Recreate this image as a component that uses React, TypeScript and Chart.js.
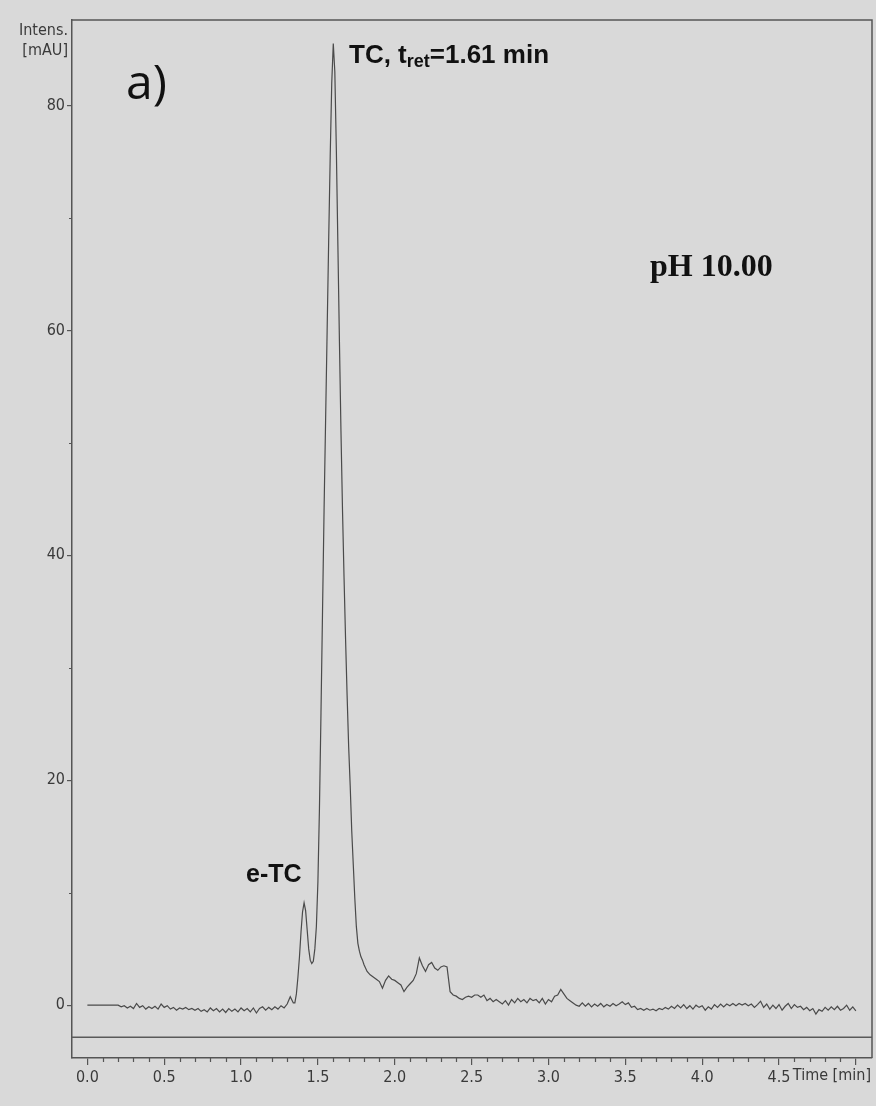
import { useEffect, useRef } from "react";
import { Chart, registerables } from "chart.js";

Chart.register(...registerables);

// Retention time (min)
const times: number[] = [
  0.0, 0.1, 0.2,
  0.22, 0.24, 0.26, 0.28, 0.30, 0.32, 0.34, 0.36, 0.38, 0.40,
  0.42, 0.44, 0.46, 0.48, 0.50, 0.52, 0.54, 0.56, 0.58, 0.60,
  0.62, 0.64, 0.66, 0.68, 0.70, 0.72, 0.74, 0.76, 0.78, 0.80,
  0.82, 0.84, 0.86, 0.88, 0.90, 0.92, 0.94, 0.96, 0.98, 1.00,
  1.02, 1.04, 1.06, 1.08, 1.10, 1.12, 1.14, 1.16, 1.18, 1.20,
  1.22, 1.24, 1.26, 1.28, 1.30, 1.32, 1.34,
  1.35, 1.36, 1.37, 1.38, 1.39, 1.40, 1.41, 1.42, 1.43, 1.44,
  1.45, 1.46, 1.47, 1.48, 1.49, 1.50, 1.51, 1.52, 1.53, 1.54,
  1.55, 1.56, 1.57, 1.58, 1.59, 1.60, 1.61, 1.62, 1.63, 1.64,
  1.65, 1.66, 1.67, 1.68, 1.69, 1.70, 1.71, 1.72, 1.73, 1.74,
  1.75, 1.76, 1.77, 1.78, 1.79, 1.80,
  1.82, 1.84, 1.86, 1.88, 1.90, 1.92, 1.94, 1.96, 1.98, 2.00,
  2.02, 2.04, 2.06, 2.08, 2.10, 2.12, 2.14, 2.16, 2.18, 2.20,
  2.22, 2.24, 2.26, 2.28, 2.30, 2.32, 2.34, 2.36, 2.38, 2.40,
  2.42, 2.44, 2.46, 2.48, 2.50, 2.52, 2.54, 2.56, 2.58, 2.60,
  2.62, 2.64, 2.66, 2.68, 2.70, 2.72, 2.74, 2.76, 2.78, 2.80,
  2.82, 2.84, 2.86, 2.88, 2.90, 2.92, 2.94, 2.96, 2.98, 3.00,
  3.02, 3.04, 3.06, 3.08, 3.10, 3.12, 3.14, 3.16, 3.18, 3.20,
  3.22, 3.24, 3.26, 3.28, 3.30, 3.32, 3.34, 3.36, 3.38, 3.40,
  3.42, 3.44, 3.46, 3.48, 3.50, 3.52, 3.54, 3.56, 3.58, 3.60,
  3.62, 3.64, 3.66, 3.68, 3.70, 3.72, 3.74, 3.76, 3.78, 3.80,
  3.82, 3.84, 3.86, 3.88, 3.90, 3.92, 3.94, 3.96, 3.98, 4.00,
  4.02, 4.04, 4.06, 4.08, 4.10, 4.12, 4.14, 4.16, 4.18, 4.20,
  4.22, 4.24, 4.26, 4.28, 4.30, 4.32, 4.34, 4.36, 4.38, 4.40,
  4.42, 4.44, 4.46, 4.48, 4.50, 4.52, 4.54, 4.56, 4.58, 4.60,
  4.62, 4.64, 4.66, 4.68, 4.70, 4.72, 4.74, 4.76, 4.78, 4.80,
  4.82, 4.84, 4.86, 4.88, 4.90, 4.92, 4.94, 4.96, 4.98, 5.00,
];

// Intensity (mAU)
const intensity: number[] = [
  0, 0, 0,
  -0.15, -0.05, -0.25, -0.1, -0.3, 0.15, -0.2, -0.05, -0.35, -0.15,
  -0.3, -0.1, -0.35, 0.1, -0.2, -0.05, -0.35, -0.2, -0.45, -0.25,
  -0.35, -0.2, -0.4, -0.3, -0.45, -0.3, -0.55, -0.4, -0.6, -0.25,
  -0.5, -0.3, -0.6, -0.35, -0.65, -0.3, -0.55, -0.35, -0.6, -0.25,
  -0.5, -0.3, -0.6, -0.25, -0.7, -0.3, -0.15, -0.45, -0.2, -0.4,
  -0.15, -0.35, -0.05, -0.25, 0.1, 0.75, 0.2,
  0.2, 1.0, 2.5, 4.3, 6.5, 8.3, 9.1, 8.4, 6.7, 5.0,
  4.0, 3.7, 3.9, 5.0, 7.0, 11.0, 17.5, 26, 35, 44,
  52, 60, 68, 75.5, 82, 85.5, 83, 76, 67.5, 59,
  51, 44, 38, 32.5, 27.5, 23, 19.5, 15.5, 12.5, 9.5,
  7.0, 5.5, 4.8, 4.3, 4.0, 3.6,
  3.0, 2.7, 2.5, 2.3, 2.1, 1.5, 2.2, 2.6, 2.3, 2.2,
  2.0, 1.8, 1.2, 1.6, 1.9, 2.2, 2.8, 4.2, 3.5, 3.0,
  3.6, 3.8, 3.3, 3.1, 3.4, 3.5, 3.4, 1.2, 0.9, 0.8,
  0.6, 0.5, 0.7, 0.8, 0.7, 0.9, 0.9, 0.7, 0.9, 0.4,
  0.6, 0.3, 0.5, 0.3, 0.1, 0.4, 0.0, 0.5, 0.2, 0.6,
  0.3, 0.5, 0.2, 0.6, 0.4, 0.5, 0.2, 0.6, 0.1, 0.5,
  0.3, 0.8, 0.9, 1.4, 1.0, 0.6, 0.4, 0.2, 0.0, -0.1,
  0.2, -0.1, 0.15, -0.15, 0.1, -0.1, 0.15, -0.15, 0.05, -0.1,
  0.15, -0.05, 0.1, 0.3, 0.05, 0.2, -0.2, -0.1, -0.4, -0.3,
  -0.45, -0.3, -0.45, -0.35, -0.5, -0.3, -0.4, -0.2, -0.35, -0.1,
  -0.3, 0.0, -0.25, 0.05, -0.3, -0.05, -0.35, 0.0, -0.2, -0.05,
  -0.45, -0.15, -0.35, 0.05, -0.2, 0.1, -0.15, 0.1, -0.05, 0.15,
  -0.05, 0.15, 0.0, 0.15, -0.05, 0.1, -0.2, 0.05, 0.35, -0.2,
  0.1, -0.35, 0.0, -0.3, 0.05, -0.45, -0.1, 0.15, -0.3, 0.05,
  -0.2, -0.1, -0.4, -0.2, -0.5, -0.3, -0.8, -0.4, -0.55, -0.2,
  -0.45, -0.15, -0.4, -0.1, -0.45, -0.3, 0.0, -0.45, -0.15, -0.5,
];

// Second (reference) trace level, mAU
const referenceLevel = -2.85;

const xRange = [-0.1, 5.105];
const yRange = [-4.7, 87.6];
const xMajorTicks = [0, 0.5, 1.0, 1.5, 2.0, 2.5, 3.0, 3.5, 4.0, 4.5, 5.0];
const xTickLabels = ["0.0", "0.5", "1.0", "1.5", "2.0", "2.5", "3.0", "3.5", "4.0", "4.5", ""];
const yMajorTicks = [0, 20, 40, 60, 80];
const yMinorTicks = [10, 30, 50, 70];
const xMinorStep = 0.1;

const NARROW = '"Liberation Sans Narrow", "Arial Narrow", "DejaVu Sans Condensed", "Liberation Sans", sans-serif';
const SANS = '"Liberation Sans", Arial, sans-serif';
const AXIS = "#555555";

const decorations = {
  id: "decorations",
  afterDraw(chart: any) {
    const { ctx, chartArea: a, scales } = chart;
    const x = scales.x;
    const y = scales.y;
    ctx.save();
    // top and right frame
    ctx.strokeStyle = AXIS;
    ctx.lineWidth = 1.5;
    ctx.beginPath();
    ctx.moveTo(a.left, a.top);
    ctx.lineTo(a.right, a.top);
    ctx.lineTo(a.right, a.bottom);
    ctx.stroke();
    // minor ticks
    ctx.lineWidth = 1.2;
    ctx.beginPath();
    for (let v = 0; v <= 5.0001; v += xMinorStep) {
      if (Math.abs(v * 2 - Math.round(v * 2)) < 1e-6) continue;
      const px = Math.round(x.getPixelForValue(v)) + 0.5;
      ctx.moveTo(px, a.bottom);
      ctx.lineTo(px, a.bottom + 4);
    }
    for (const v of yMinorTicks) {
      const py = Math.round(y.getPixelForValue(v)) + 0.5;
      ctx.moveTo(a.left, py);
      ctx.lineTo(a.left - 3, py);
    }
    ctx.stroke();

    // axis titles
    ctx.fillStyle = "#3a3a3a";
    ctx.font = `16px ${NARROW}`;
    ctx.textAlign = "right";
    ctx.textBaseline = "middle";
    ctx.fillText("Intens.", 68, 31);
    ctx.fillText("[mAU]", 68, 51);
    ctx.fillText("Time [min]", a.right - 1, 1076);

    // panel letter
    ctx.fillStyle = "#111111";
    ctx.textAlign = "left";
    ctx.textBaseline = "alphabetic";
    ctx.font = `48px "Open Sans", "Noto Sans", sans-serif`;
    ctx.fillText("a)", 126, 99);

    // TC label
    let tx = 349;
    const by = 63;
    ctx.font = `bold 26px ${SANS}`;
    ctx.fillText("TC, t", tx, by);
    tx += ctx.measureText("TC, t").width;
    ctx.font = `bold 18px ${SANS}`;
    ctx.fillText("ret", tx, by + 4);
    tx += ctx.measureText("ret").width;
    ctx.font = `bold 26px ${SANS}`;
    ctx.fillText("=1.61 min", tx, by);

    // e-TC label
    ctx.font = `bold 25px ${SANS}`;
    ctx.fillText("e-TC", 246, 882);

    // pH label
    ctx.font = `bold 32px "Liberation Serif", "Times New Roman", serif`;
    ctx.fillText("pH 10.00", 650, 276);
    ctx.restore();
  },
};

export default function App() {
  const canvasRef = useRef<HTMLCanvasElement | null>(null);

  useEffect(() => {
    const canvas = canvasRef.current;
    if (!canvas) return;
    const chart = new Chart(canvas, {
      type: "line",
      data: {
        datasets: [
          {
            label: "pH 10.00",
            data: times.map((t, i) => ({ x: t, y: intensity[i] })),
            borderColor: "#4a4a4a",
            borderWidth: 1.2,
            pointRadius: 0,
            tension: 0,
            fill: false,
          },
          {
            label: "reference",
            data: [
              { x: xRange[0], y: referenceLevel },
              { x: xRange[1], y: referenceLevel },
            ],
            borderColor: "#5a5a5a",
            borderWidth: 1.5,
            pointRadius: 0,
            fill: false,
          },
        ],
      },
      options: {
        animation: false,
        responsive: true,
        maintainAspectRatio: false,
        layout: { padding: { left: 0, top: 20, right: 4, bottom: 0 } },
        plugins: { legend: { display: false }, tooltip: { enabled: false } },
        scales: {
          x: {
            type: "linear",
            min: xRange[0],
            max: xRange[1],
            afterBuildTicks: (s: any) => {
              s.ticks = xMajorTicks.map((v) => ({ value: v }));
            },
            afterFit: (s: any) => {
              s.height = 48;
            },
            ticks: {
              autoSkip: false,
              maxRotation: 0,
              padding: 3,
              color: "#3a3a3a",
              font: { family: NARROW, size: 16 },
              callback: (v: any) => {
                const i = xMajorTicks.findIndex((m) => Math.abs(m - Number(v)) < 1e-6);
                return i >= 0 ? xTickLabels[i] : "";
              },
            },
            grid: {
              display: true,
              drawOnChartArea: false,
              drawTicks: true,
              tickLength: 7,
              color: AXIS,
              lineWidth: 1.2,
            },
            border: { display: true, color: AXIS, width: 1.5 },
          },
          y: {
            type: "linear",
            min: yRange[0],
            max: yRange[1],
            afterBuildTicks: (s: any) => {
              s.ticks = yMajorTicks.map((v) => ({ value: v }));
            },
            afterFit: (s: any) => {
              s.width = 72;
            },
            ticks: {
              autoSkip: false,
              padding: 2,
              color: "#3a3a3a",
              font: { family: NARROW, size: 16 },
              callback: (v: any) => String(v),
            },
            grid: {
              display: true,
              drawOnChartArea: false,
              drawTicks: true,
              tickLength: 5,
              color: AXIS,
              lineWidth: 1.2,
            },
            border: { display: true, color: AXIS, width: 1.5 },
          },
        },
      },
      plugins: [decorations],
    });
    return () => chart.destroy();
  }, []);

  return (
    <div
      style={{
        position: "absolute",
        left: 0,
        top: 0,
        width: 876,
        height: 1106,
        background: "#d9d9d9",
      }}
    >
      <canvas ref={canvasRef} />
    </div>
  );
}
